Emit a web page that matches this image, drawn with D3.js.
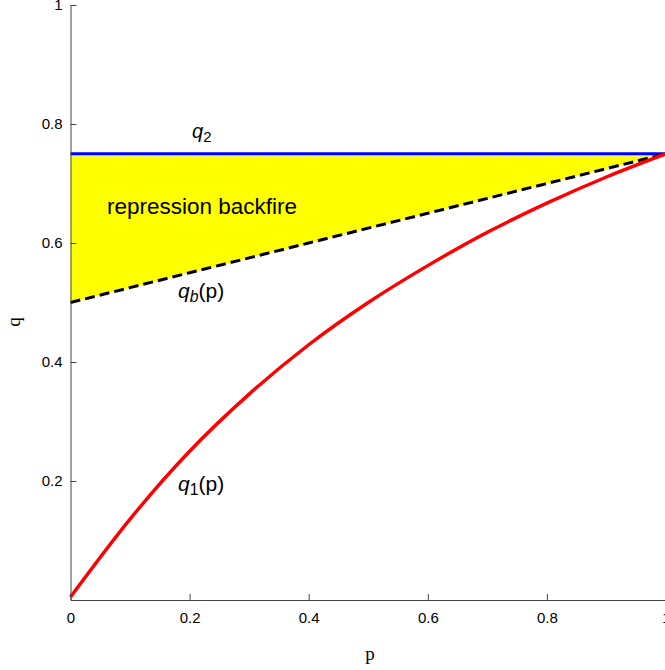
<!DOCTYPE html>
<html>
<head>
<meta charset="utf-8">
<script src="https://cdn.jsdelivr.net/npm/d3@7"></script>
<style>
html,body{margin:0;padding:0;background:#fff;}
svg{display:block;}
</style>
</head>
<body>
<svg id="chart" width="665" height="670"></svg>
<script>
// Data
const pValues = [0, 0.1, 0.2, 0.3, 0.4, 0.5, 0.6, 0.7, 0.8, 0.9, 1.0];
const q1Values = [0.005, 0.136, 0.25, 0.346, 0.429, 0.5, 0.562, 0.618, 0.667, 0.711, 0.75];
const qbValues = [0.5, 0.525, 0.55, 0.575, 0.6, 0.625, 0.65, 0.675, 0.7, 0.725, 0.75];
const q2Values = [0.75, 0.75, 0.75, 0.75, 0.75, 0.75, 0.75, 0.75, 0.75, 0.75, 0.75];
const xTicks = [0, 0.2, 0.4, 0.6, 0.8, 1];
const yTicks = [0.2, 0.4, 0.6, 0.8, 1];
const xTickLabels = ["0", "0.2", "0.4", "0.6", "0.8", "1"];
const yTickLabels = ["0.2", "0.4", "0.6", "0.8", "1"];

const svg = d3.select("#chart");
const x = d3.scaleLinear().domain([0, 1]).range([70.5, 666]);
const y = d3.scaleLinear().domain([0, 1]).range([600, 5]);

const pts = (vals) => pValues.map((p, i) => [p, vals[i]]);

// Yellow region between qb and q2
const area = d3.area()
  .x((d, i) => x(pValues[i]))
  .y0((d, i) => y(qbValues[i]))
  .y1((d, i) => y(q2Values[i]));
svg.append("path").datum(pValues).attr("d", area).attr("fill", "#ffff00").attr("stroke", "none");

const line = d3.line().x(d => x(d[0])).y(d => y(d[1]));
const curve = d3.line().x(d => x(d[0])).y(d => y(d[1])).curve(d3.curveMonotoneX);

// faint dashed line under q2
svg.append("path").datum(pts(q2Values)).attr("d", line)
  .attr("transform", "translate(0,2)")
  .attr("fill", "none").attr("stroke", "#e8e8e8").attr("stroke-width", 1.5)
  .attr("stroke-dasharray", "8,4");

// q2 blue
svg.append("path").datum(pts(q2Values)).attr("d", line)
  .attr("fill", "none").attr("stroke", "#0000ff").attr("stroke-width", 3);

// qb dashed black
svg.append("path").datum(pts(qbValues)).attr("d", line)
  .attr("fill", "none").attr("stroke", "#000").attr("stroke-width", 3)
  .attr("stroke-dasharray", "10,5");

// q1 red
svg.append("path").datum(pts(q1Values)).attr("d", curve)
  .attr("fill", "none").attr("stroke", "#ff0000").attr("stroke-width", 3.4);

// Axes
const axisColor = "#444";
const gx = svg.append("g").attr("transform", `translate(0,${y(0)})`)
  .call(d3.axisBottom(x).tickValues(xTicks).tickSizeInner(-6).tickSizeOuter(0)
    .tickPadding(10).tickFormat((d, i) => xTickLabels[i]));
const gy = svg.append("g").attr("transform", `translate(${x(0)},0)`)
  .call(d3.axisLeft(y).tickValues(yTicks).tickSizeInner(-6).tickSizeOuter(0)
    .tickPadding(8).tickFormat((d, i) => yTickLabels[i]));
[gx, gy].forEach(g => {
  g.select(".domain").attr("stroke", axisColor).attr("stroke-width", 1);
  g.selectAll(".tick line").attr("stroke", axisColor);
  g.selectAll(".tick text").attr("fill", "#000")
    .style("font-family", "'Liberation Sans', Arial, sans-serif").style("font-size", "15px");
});
gx.selectAll(".tick text").attr("dy", "0.85em");

// axis titles
svg.append("text").attr("x", 370).attr("y", 660).attr("text-anchor", "middle")
  .style("font-family", "'Liberation Serif', 'Times New Roman', serif").style("font-size", "19px")
  .text("p");
svg.append("text").attr("transform", "translate(20,322) rotate(-90)").attr("text-anchor", "middle")
  .style("font-family", "'Liberation Serif', 'Times New Roman', serif").style("font-size", "19px")
  .text("q");

// curve labels
const labFont = "'Liberation Sans', Arial, sans-serif";
function qLabel(xp, yp, sub, suffix, subItalic, fs) {
  const t = svg.append("text").attr("x", xp).attr("y", yp)
    .style("font-family", labFont).style("font-size", fs + "px").attr("fill", "#000");
  t.append("tspan").style("font-style", "italic").text("q");
  t.append("tspan").attr("dy", 4).style("font-size", (fs * 0.75) + "px")
    .style("font-style", subItalic ? "italic" : "normal").text(sub);
  if (suffix) t.append("tspan").attr("dy", -4).text(suffix);
}
qLabel(192, 138, "2", "", false, 20);
qLabel(178, 298, "b", "(p)", true, 21);
qLabel(178, 491, "1", "(p)", false, 21);

svg.append("text").attr("x", 107).attr("y", 214)
  .style("font-family", labFont).style("font-size", "22.5px").attr("fill", "#000")
  .text("repression backfire");
</script>
</body>
</html>
